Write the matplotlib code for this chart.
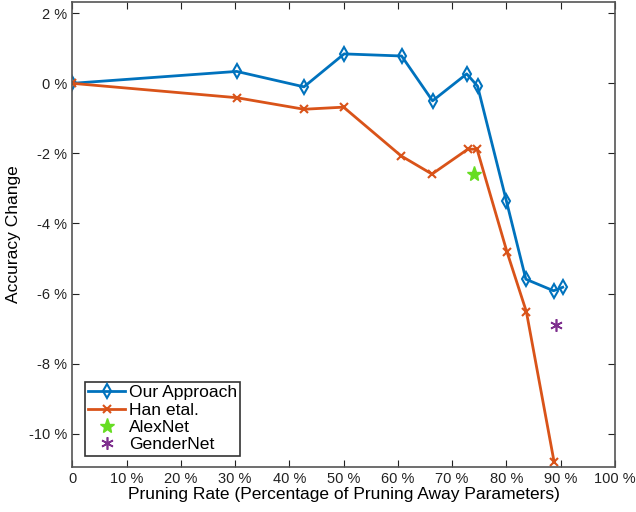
import matplotlib
matplotlib.use('Agg')
import matplotlib.pyplot as plt

plt.rcParams['font.family'] = ['Liberation Sans', 'DejaVu Sans']

# pruning rate (%) and accuracy change (%)
ours_x = [0, 30.3, 42.7, 50.1, 60.7, 66.4, 72.7, 74.7, 80.0, 83.6, 88.7, 90.4]
ours_y = [0, 0.34, -0.10, 0.84, 0.78, -0.50, 0.27, -0.08, -3.35, -5.59, -5.92, -5.82]

han_x = [0, 30.3, 42.7, 50.0, 60.6, 66.3, 72.9, 74.6, 80.1, 83.7, 88.8]
han_y = [0, -0.41, -0.74, -0.68, -2.07, -2.59, -1.88, -1.88, -4.80, -6.52, -10.80]

alexnet = (74.1, -2.59)
gendernet = (89.2, -6.90)

xticks = [0, 10, 20, 30, 40, 50, 60, 70, 80, 90, 100]
xticklabels = ['0'] + ['%d %%' % v for v in xticks[1:]]
yticks = [2, 0, -2, -4, -6, -8, -10]
yticklabels = ['%d %%' % v for v in yticks]

fig = plt.figure(figsize=(6.36, 5.12), dpi=100)
ax = fig.add_axes([0.1137, 0.0879, 0.853, 0.9088])

ax.plot(ours_x, ours_y, color='#0072BD', lw=2, marker='d', ms=7, mfc='none',
        mew=1.5, label='Our Approach')
ax.plot(han_x, han_y, color='#D95319', lw=2, marker='x', ms=6, mew=1.5,
        label='Han etal.')
ax.plot(*alexnet, ls='none', marker='*', ms=11, color='#66DD22', label='AlexNet')
ax.plot(*gendernet, ls='none', marker=(6, 2, 0), ms=9, mew=1.2, color='#7E2F8E',
        label='GenderNet')

ax.set_xlim(0, 100)
ax.set_ylim(-10.95, 2.33)
ax.set_xticks(xticks)
ax.set_xticklabels(xticklabels)
ax.set_yticks(yticks)
ax.set_yticklabels(yticklabels)
ax.tick_params(direction='in', top=True, right=True, labelsize=10.5, colors='#222222',
               length=5)
for s in ax.spines.values():
    s.set_color('#555555')
    s.set_linewidth(1.2)

ax.set_xlabel('Pruning Rate (Percentage of Pruning Away Parameters)', fontsize=12.5, labelpad=1)
ax.set_ylabel('Accuracy Change', fontsize=12.5, labelpad=6)

leg = ax.legend(loc='lower left', bbox_to_anchor=(0.02, 0.02), fontsize=12.6,
                handlelength=2.1, handletextpad=0.2, labelspacing=0.12,
                borderpad=0.2, borderaxespad=0.1, fancybox=False, framealpha=1)
leg.get_frame().set_edgecolor('#333333')
leg.get_frame().set_linewidth(1.2)

plt.savefig('out.png', dpi=100)
